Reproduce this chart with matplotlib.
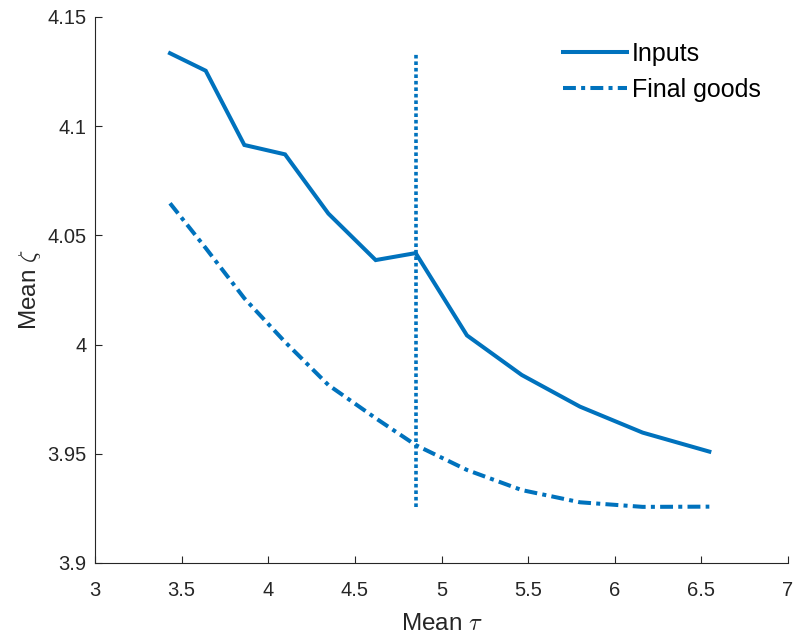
import matplotlib
matplotlib.use("Agg")
import matplotlib.pyplot as plt

# Data
mean_tau = [3.433, 3.639, 3.862, 4.097, 4.347, 4.620, 4.851, 5.147, 5.463, 5.799, 6.161, 6.546]
inputs_zeta = [4.1334, 4.1254, 4.0914, 4.0871, 4.0600, 4.0387, 4.0419, 4.0042, 3.9861, 3.9716, 3.9597, 3.9510]
final_zeta = [4.0647, 4.0442, 4.0212, 4.0012, 3.9815, 3.9663, 3.9540, 3.9426, 3.9334, 3.9278, 3.9257, 3.9258]
vline_x = 4.851
series_labels = ["Inputs", "Final goods"]
xticks = [3, 3.5, 4, 4.5, 5, 5.5, 6, 6.5, 7]
xticklabels = ["3", "3.5", "4", "4.5", "5", "5.5", "6", "6.5", "7"]
yticks = [3.9, 3.95, 4.0, 4.05, 4.1, 4.15]
yticklabels = ["3.9", "3.95", "4", "4.05", "4.1", "4.15"]

plt.rcParams['font.family'] = ['Liberation Sans', 'DejaVu Sans']
plt.rcParams['mathtext.fontset'] = 'cm'

color = '#0072BD'
fig = plt.figure(figsize=(7.93, 6.37), dpi=100)
ax = fig.add_axes([95/793, (637-563)/637, 693/793, 546/637])

lw = 2.9
ax.plot(mean_tau, inputs_zeta, color=color, lw=lw, label=series_labels[0],
        solid_joinstyle='miter')
ax.plot(mean_tau, final_zeta, color=color, lw=lw, label=series_labels[1],
        dashes=(3.2, 1.3, 1.0, 1.3), dash_capstyle='butt')
ymin_v = min(min(inputs_zeta), min(final_zeta))
ymax_v = max(max(inputs_zeta), max(final_zeta))
ax.plot([vline_x, vline_x], [ymin_v, ymax_v], color=color, lw=2.6,
        dashes=(1.0, 0.8), dash_capstyle='butt')

ax.set_xlim(3, 7)
ax.set_ylim(3.9, 4.15)
ax.set_xticks(xticks)
ax.set_xticklabels(xticklabels)
ax.set_yticks(yticks)
ax.set_yticklabels(yticklabels)

for s in ['top', 'right']:
    ax.spines[s].set_visible(False)
for s in ['left', 'bottom']:
    ax.spines[s].set_color('#262626')
    ax.spines[s].set_linewidth(0.8)

ax.tick_params(axis='both', direction='in', length=5, width=0.8, colors='#262626',
               labelsize=14.5, labelcolor='#262626')
ax.tick_params(axis='x', pad=13)
ax.tick_params(axis='y', pad=6)

ax.set_xlabel(r'Mean $\tau$', fontsize=17.5, color='#262626', labelpad=9)
ax.set_ylabel(r'Mean $\zeta$', fontsize=17.5, color='#262626', labelpad=3)

leg = ax.legend(loc='upper left', bbox_to_anchor=(0.676, 0.955), frameon=False,
                fontsize=18, handlelength=2.55, handletextpad=0.2,
                labelspacing=0.5, borderpad=0, borderaxespad=0)
for t in leg.get_texts():
    t.set_color('black')

fig.savefig('out.png', dpi=100)
